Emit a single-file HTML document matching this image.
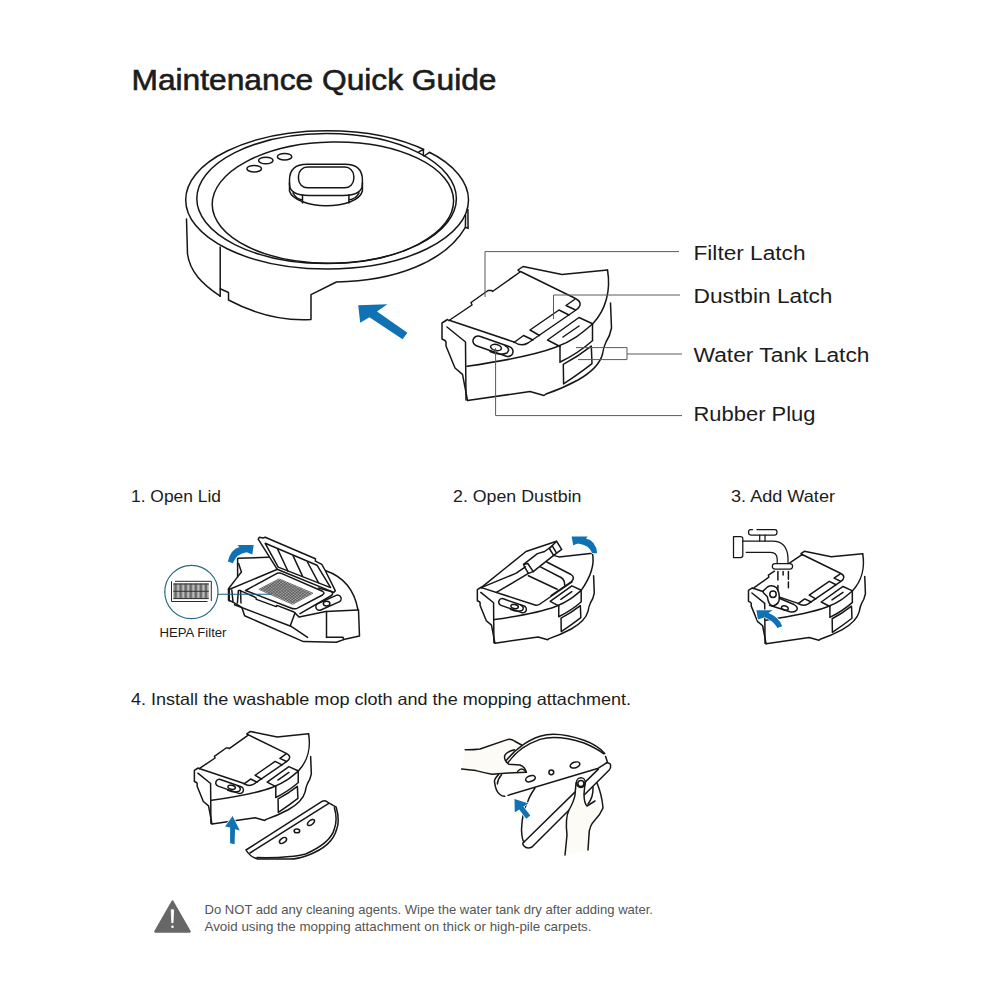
<!DOCTYPE html>
<html><head><meta charset="utf-8"><title>Maintenance Quick Guide</title>
<style>
html,body{margin:0;padding:0;background:#fff;width:1000px;height:1000px;overflow:hidden}
svg{position:absolute;left:0;top:0}
text{font-family:"Liberation Sans",sans-serif}
.k{fill:none;stroke:#161616;stroke-width:1.5;stroke-linejoin:round;stroke-linecap:round}
.k *{vector-effect:non-scaling-stroke}
.g{fill:none;stroke:#5a5a5a;stroke-width:1}
.bl{fill:#0f72b4;stroke:#fff;stroke-width:1.4;paint-order:stroke;stroke-linejoin:round}
</style></head>
<body>
<svg width="1000" height="1000" viewBox="0 0 1000 1000">
<!-- TEXT -->
<g fill="#1c1c1c">
<text x="131.5" y="89.6" font-size="29" textLength="365" lengthAdjust="spacingAndGlyphs" stroke="#1c1c1c" stroke-width="0.6">Maintenance Quick Guide</text>
<text x="693.5" y="259.6" font-size="19.5" textLength="112" lengthAdjust="spacingAndGlyphs">Filter Latch</text>
<text x="693.5" y="303" font-size="19.5" textLength="139" lengthAdjust="spacingAndGlyphs">Dustbin Latch</text>
<text x="693.5" y="361.6" font-size="19.5" textLength="176" lengthAdjust="spacingAndGlyphs">Water Tank Latch</text>
<text x="693.5" y="421" font-size="19.5" textLength="122" lengthAdjust="spacingAndGlyphs">Rubber Plug</text>
<text x="131" y="501.6" font-size="16.5" textLength="90" lengthAdjust="spacingAndGlyphs">1. Open Lid</text>
<text x="453" y="501.6" font-size="16.5" textLength="128.5" lengthAdjust="spacingAndGlyphs">2. Open Dustbin</text>
<text x="731" y="501.6" font-size="16.5" textLength="104" lengthAdjust="spacingAndGlyphs">3. Add Water</text>
<text x="131" y="705.4" font-size="16.5" textLength="500" lengthAdjust="spacingAndGlyphs">4. Install the washable mop cloth and the mopping attachment.</text>
<text x="159.5" y="636.5" font-size="12.3" textLength="67" lengthAdjust="spacingAndGlyphs">HEPA Filter</text>
</g>
<g fill="#555">
<text x="204.5" y="913.8" font-size="13" textLength="448.5" lengthAdjust="spacingAndGlyphs">Do NOT add any cleaning agents. Wipe the water tank dry after adding water.</text>
<text x="204.5" y="931.4" font-size="13" textLength="387" lengthAdjust="spacingAndGlyphs">Avoid using the mopping attachment on thick or high-pile carpets.</text>
</g>
<!-- warning triangle -->
<path d="M172.5,901.5 L155.3,931.6 L189.7,931.6 Z" fill="#676767" stroke="#676767" stroke-width="2.2" stroke-linejoin="round"/>
<path d="M171.2,909.8 L173.6,909.8 L173,922.8 L171.8,922.8 Z" fill="#fff" stroke="#fff" stroke-width="0.9" stroke-linejoin="round"/>
<circle cx="172.5" cy="926.8" r="1.3" fill="#fff"/>

<!-- ROBOT -->
<g class="k">
<ellipse cx="327.1" cy="199.9" rx="141.4" ry="69.1"/>
<ellipse cx="326.6" cy="198.6" rx="129.8" ry="65"/>
<ellipse cx="332.9" cy="202.6" rx="120.7" ry="60.6" transform="rotate(-1.06 332.9 202.6)"/>
<path d="M467.9,209.4 L468.1,228.4 L465.4,227.3 L465.6,215"/>
<path d="M186.5,219 L187.5,254 C190,272 202,284 220.2,296.2"/>
<path d="M220.2,247 L220.2,296.2"/>
<path d="M220.2,288.7 L228.5,292.5 L228.5,300 Q270,322 311,319.5 L311,294.7 L336.4,282 C395,281 445,262 465.4,227.3"/>
<path d="M307,164.2 L345,164.2 Q362.4,164.2 362.4,180 L362.4,184 Q362.4,195.5 343,195.5 L309,195.5 Q289.5,195.5 289.5,184 L289.5,180 Q289.5,164.2 307,164.2 Z"/>
<rect x="298.5" y="167.1" width="55.3" height="20.7" rx="9"/>
<path d="M289.5,183 L289.5,191 C292,200 310,205.8 326,205.8 C345,205.8 360,200 362.4,191 L362.4,183"/>
<path d="M302.5,195 L302.5,203 M348.9,195 L348.9,203 M293,193 Q296,199 302.5,200 M359,193 Q356,199 348.9,200"/>
<ellipse cx="254.2" cy="168.7" rx="7.3" ry="3.3"/>
<ellipse cx="265.8" cy="160.5" rx="7.2" ry="3.3"/>
<ellipse cx="284.6" cy="156.7" rx="7.2" ry="3.3"/>
</g>
<path d="M424.2,149.75 L429.2,152.2" stroke="#fff" stroke-width="2.6" fill="none"/>
<path class="k" d="M418.2,152.4 L422.8,149.6 L423.4,149.6 L423.4,155.4 M424.2,156 L429.4,152.4 L430.5,152.9"/>
<path class="bl" d="M358.2,305.2 L387.4,304.2 L377,311.6 L407.4,332.8 L402.6,339.2 L369.4,317.2 L360.2,322.8 Z"/>

<!-- TOP DUSTBIN -->

<g class="k">
<path d="M449,320.5 L447.5,319.5 L442,323 L442,339 L445,340.5 L446,342 L446,346 L455,368 L462.5,374.4 L467.5,400.4"/>
<path d="M447,327 L465.5,342 L466,400"/>
<path d="M592.5,324 C570.4,343 557.9,353.1 467,366.3"/>
<path d="M560,346.5 L547.5,340 L579,317.5 L592,323.5 M563,337 L579,326"/>
<path d="M560,346.5 L560,362 M592.5,324 L592.5,340.5 M559.8,362.2 Q578,353.5 592.7,340.5"/>
<path d="M563.3,364.3 Q578,356.5 591.3,346.1 L592,363.6 Q580,373 563.6,383.9 Z"/>
<path d="M610.5,303 L611.5,328 Q610,336 606,342 Q603.5,347 602.5,354 C600,364 592,372 578,380 C565,387 555,391 546,394 L544,395.5 L530,391.5 L467.5,400.5"/>
</g><g class="k">
<rect x="472.1" y="341.25" width="41.8" height="10" rx="5" transform="rotate(19.3 493 346.25)"/>
<ellipse cx="496" cy="347.5" rx="5.5" ry="3" transform="rotate(12 496 347.5)"/>
<path d="M490,351.5 Q500,356 507,353 Q511,349 505,345.5"/>
</g><g class="k">
<path d="M449,320.5 L472,305 L471,302.5 L488,290.5 L492,290.5 L492.5,291.5 L520,272 L518,270 L523,266.5 L562,274.5 L607.5,270"/>
<path d="M607.5,270 C611,290 606,310 592.5,324"/>
<path d="M520.5,271.5 L574.5,298 Q585,303 576,310 L528,343 Q521,347 514,342 L450,320.5"/>
<path d="M574.5,299.5 L566,305.5 L575.5,310 M539.5,335.5 L530,330 L559,310 L569,315 M514,342.5 L523.5,335.5 L533,340"/>
</g>
<!-- step 4 bin -->
<g transform="translate(-110.6,547.55) scale(0.69)"><g class="k">
<path d="M449,320.5 L447.5,319.5 L442,323 L442,339 L445,340.5 L446,342 L446,346 L455,368 L462.5,374.4 L467.5,400.4"/>
<path d="M447,327 L465.5,342 L466,400"/>
<path d="M592.5,324 C570.4,343 557.9,353.1 467,366.3"/>
<path d="M560,346.5 L547.5,340 L579,317.5 L592,323.5 M563,337 L579,326"/>
<path d="M560,346.5 L560,362 M592.5,324 L592.5,340.5 M559.8,362.2 Q578,353.5 592.7,340.5"/>
<path d="M563.3,364.3 Q578,356.5 591.3,346.1 L592,363.6 Q580,373 563.6,383.9 Z"/>
<path d="M610.5,303 L611.5,328 Q610,336 606,342 Q603.5,347 602.5,354 C600,364 592,372 578,380 C565,387 555,391 546,394 L544,395.5 L530,391.5 L467.5,400.5"/>
</g><g class="k">
<rect x="472.1" y="341.25" width="41.8" height="10" rx="5" transform="rotate(19.3 493 346.25)"/>
<ellipse cx="496" cy="347.5" rx="5.5" ry="3" transform="rotate(12 496 347.5)"/>
<path d="M490,351.5 Q500,356 507,353 Q511,349 505,345.5"/>
</g><g class="k">
<path d="M449,320.5 L472,305 L471,302.5 L488,290.5 L492,290.5 L492.5,291.5 L520,272 L518,270 L523,266.5 L562,274.5 L607.5,270"/>
<path d="M607.5,270 C611,290 606,310 592.5,324"/>
<path d="M520.5,271.5 L574.5,298 Q585,303 576,310 L528,343 Q521,347 514,342 L450,320.5"/>
<path d="M574.5,299.5 L566,305.5 L575.5,310 M539.5,335.5 L530,330 L559,310 L569,315 M514,342.5 L523.5,335.5 L533,340"/>
</g></g>
<!-- step 2 bin -->
<g transform="translate(172.36,366.8) scale(0.69)"><g class="k">
<path d="M449,320.5 L447.5,319.5 L442,323 L442,339 L445,340.5 L446,342 L446,346 L455,368 L462.5,374.4 L467.5,400.4"/>
<path d="M447,327 L465.5,342 L466,400"/>
<path d="M592.5,324 C570.4,343 557.9,353.1 467,366.3"/>
<path d="M560,346.5 L547.5,340 L579,317.5 L592,323.5 M563,337 L579,326"/>
<path d="M560,346.5 L560,362 M592.5,324 L592.5,340.5 M559.8,362.2 Q578,353.5 592.7,340.5"/>
<path d="M563.3,364.3 Q578,356.5 591.3,346.1 L592,363.6 Q580,373 563.6,383.9 Z"/>
<path d="M610.5,303 L611.5,328 Q610,336 606,342 Q603.5,347 602.5,354 C600,364 592,372 578,380 C565,387 555,391 546,394 L544,395.5 L530,391.5 L467.5,400.5"/>
</g><g class="k">
<rect x="472.1" y="341.25" width="41.8" height="10" rx="5" transform="rotate(19.3 493 346.25)"/>
<ellipse cx="496" cy="347.5" rx="5.5" ry="3" transform="rotate(12 496 347.5)"/>
<path d="M490,351.5 Q500,356 507,353 Q511,349 505,345.5"/>
</g></g>
<!-- step 3 bin -->
<g transform="translate(443.5,367.4) scale(0.69)"><g class="k">
<path d="M449,320.5 L447.5,319.5 L442,323 L442,339 L445,340.5 L446,342 L446,346 L455,368 L462.5,374.4 L467.5,400.4"/>
<path d="M447,327 L465.5,342 L466,400"/>
<path d="M592.5,324 C570.4,343 557.9,353.1 467,366.3"/>
<path d="M560,346.5 L547.5,340 L579,317.5 L592,323.5 M563,337 L579,326"/>
<path d="M560,346.5 L560,362 M592.5,324 L592.5,340.5 M559.8,362.2 Q578,353.5 592.7,340.5"/>
<path d="M563.3,364.3 Q578,356.5 591.3,346.1 L592,363.6 Q580,373 563.6,383.9 Z"/>
<path d="M610.5,303 L611.5,328 Q610,336 606,342 Q603.5,347 602.5,354 C600,364 592,372 578,380 C565,387 555,391 546,394 L544,395.5 L530,391.5 L467.5,400.5"/>
</g></g>
<!-- leader lines -->
<g class="g">
<path d="M485,297 L485,251.6 L679,251.6"/>
<path d="M553.5,319 L553.5,295 L680,295"/>
<path d="M576,347.6 L627,347.6 L627,359.6 L578,359.6 M627,354 L682,354"/>
<path d="M495.6,348 L495.6,415.6 L682,415.6"/>
</g>

<!-- STEP 1 -->
<g class="k">
<path d="M237.6,577 L237.6,558.3 L268.4,557.3"/>
<path d="M238.6,563.6 L241.4,572 L237.6,576.9 L228.5,588.8 L228.5,600 L233.4,602.4 L241.8,607.3 L244.6,615.7 L303.4,641.6 L336.4,642.2 L343.6,639.6 L359.5,636 L358.5,610"/>
<path d="M326.5,637.2 L343,637.2 L343.6,639.6"/>
<path d="M258.2,539.1 L259.3,537.3 L263.1,538 L265.2,537.3 L315.4,558.8 L315.4,561.2 L321.8,564.4 L325,570 L335.4,590.8 L333.8,592.4 L277.1,569.2 Z"/>
<path d="M265.2,543.3 L317,565.2 L330.6,587.6 L278.2,567.1 Z"/>
<path d="M277.5,548.9 L288,571.3 M293,555.6 L302.6,576.4 M307.4,562 L318.6,582.8"/>
<path d="M228.5,589.8 L277.5,569.2"/>
<path d="M318.5,588 L331,591.5 Q334,593 331.5,595.5 L300,613.6"/>
<path d="M245.5,590.5 L277,573.3 Q279.5,572.5 281.9,573.6 L322.5,591.3 Q325.5,593 322.5,595 L297,608.4 Q294,609.5 290.8,608 L245.5,590.5"/>
<path d="M239.6,590.4 L255.8,597.6 L256.4,599.4 L276.2,606.6 L276.8,605.4 L294,612 L299.2,617.1 L325.8,611.5 L358,610"/>
<path d="M325.8,570.8 C341,576 354,588 358,610"/>
<path d="M234.5,604.8 L290.8,626.2 L307.6,637.4 M290.1,626.2 L295,612.9 M326.5,611.5 L326.5,637.4"/>

<path d="M229.2,589 L229.2,601 M231.8,590 L233,602 M238.4,590.4 L237.4,603 M240.5,590.4 L241,603"/>
<rect x="315" y="599.2" width="27" height="7" rx="3.5" transform="rotate(-24 328.5 602.7)"/>
<ellipse cx="326.6" cy="603.6" rx="3.3" ry="2.4"/>
</g>
<g stroke="#2a2a2a" stroke-width="0.6" fill="none"><path d="M258.9,589.3L292.7,604.3 M260.5,588.5L294.3,603.4 M262.0,587.7L295.8,602.6 M263.6,586.9L297.4,601.7 M265.1,586.1L298.9,600.9 M266.7,585.3L300.5,600.0 M268.2,584.5L302.0,599.2 M269.8,583.7L303.6,598.3 M271.3,582.9L305.1,597.5 M272.9,582.1L306.7,596.6 M274.4,581.3L308.2,595.8 M276.0,580.5L309.8,594.9 M277.5,579.7L311.3,594.1 M279.1,578.9L312.9,593.2 M258.9,589.3L279.1,578.9 M260.6,590.0L280.8,579.6 M262.3,590.8L282.5,580.3 M264.0,591.5L284.2,581.0 M265.7,592.3L285.9,581.8 M267.3,593.0L287.6,582.5 M269.0,593.8L289.2,583.2 M270.7,594.5L290.9,583.9 M272.4,595.3L292.6,584.6 M274.1,596.0L294.3,585.3 M275.8,596.8L296.0,586.0 M277.5,597.5L297.7,586.8 M279.2,598.3L299.4,587.5 M280.9,599.0L301.1,588.2 M282.6,599.8L302.8,588.9 M284.2,600.5L304.4,589.6 M285.9,601.3L306.1,590.3 M287.6,602.0L307.8,591.1 M289.3,602.8L309.5,591.8 M291.0,603.5L311.2,592.5 M292.7,604.3L312.9,593.2"/></g>
<path class="bl" d="M227.8,561.5 Q230.5,549.5 239.5,547 L237.2,545 L253.7,545 L252.3,554.5 L246.7,552.2 Q236.5,553.5 232.9,563.2 Z"/>
<circle cx="191.4" cy="592" r="26.6" fill="none" stroke="#2a6a86" stroke-width="1.2"/>
<path d="M218,594.3 L272,594.3" stroke="#1f5f78" stroke-width="1.1"/>
<path d="M175,581.3 L211.3,581.3 L211.3,601 M171.5,581.3 L171.5,601.5 L207.5,601.5" fill="none" stroke="#2a2a2a" stroke-width="1"/>
<rect x="173.3" y="583.5" width="35.5" height="15.5" fill="#9a9a9a"/>
<path d="M175.60,583.5 L175.60,598.5 M180.65,583.5 L180.65,598.5 M185.70,583.5 L185.70,598.5 M190.75,583.5 L190.75,598.5 M195.80,583.5 L195.80,598.5 M200.85,583.5 L200.85,598.5 M205.90,583.5 L205.90,598.5" stroke="#6a6a6a" stroke-width="2"/>
<path d="M178.20,584.5 L178.20,597.5 M183.25,584.5 L183.25,597.5 M188.30,584.5 L188.30,597.5 M193.35,584.5 L193.35,597.5 M198.40,584.5 L198.40,597.5 M203.45,584.5 L203.45,597.5 M208.50,584.5 L208.50,597.5" stroke="#bdbdbd" stroke-width="1.4"/>
<path d="M173.3,584 L208.8,584 M173.3,591.3 L208.8,591.3 M173.3,598.6 L208.8,598.6" stroke="#333" stroke-width="1"/>

<!-- STEP 2 custom -->
<g class="k">
<path d="M481.2,587.6 L526,551.5 L556.6,541.3 L561.7,549.4 L553.6,555.4"/>
<path d="M549.4,548.5 L556.6,541.3 M552.4,546.1 L556.3,552.7 M549.4,548.5 L553.6,555.4"/>
<path d="M523.6,564.4 L537.4,553.6 L544.6,551.5 L552,546"/>
<path d="M523.6,564.4 L527.8,563.5 L533.2,571.6 L528.4,573.4 L524.8,567.4 Z"/>
<path d="M533.2,571.6 L553.6,555.4 L559,556.9 L592.4,553.2"/>
<path d="M481.2,587.6 L515.8,573.4 L525.4,566.8"/>
<path d="M496.4,592.4 L528.4,573.4 M528.4,575.8 L557.2,589.2"/>
<path d="M540.4,566.8 L561,577.5 Q565,580 564.6,585 M546.8,562 L571,574.5 Q575.5,577.5 571.5,581.5 L551,595.5"/>
<path d="M592.4,553.2 C595,565 590,578 581.2,590.4"/>
<path d="M482.2,587.9 L535,605 Q537.5,605.8 540,604 L572,582"/>
</g>
<path class="bl" d="M597.2,553.2 Q596,541 586,538.6 L587.6,536.4 L571.6,536.4 L573.2,545.2 L578,543.6 Q589,545 592.4,553.2 Z"/>

<!-- STEP 3 custom -->
<g transform="translate(443.5,367.4) scale(0.69)">
<g class="k">
<path d="M607.5,270 C611,290 606,310 592.5,324"/>
<path d="M520.5,271.5 L574.5,298 Q585,303 576,310 L528,343 Q521,347 514,342 L450,320.5"/>
<path d="M574.5,299.5 L566,305.5 L575.5,310 M539.5,335.5 L530,330 L559,310 L569,315 M514,342.5 L523.5,335.5 L533,340"/>
<path d="M520,272 L518,270 L523,266.5 L562,274.5 L607.5,270"/>
</g>
</g>
<g class="k">
<path d="M754.1,587.7 L768.8,577.2 L768.4,575.1 L774.4,571.2 M789.8,562.8 L802.4,554.4"/>
<path fill="#fff" d="M764.6,589.8 Q770,583 776.5,587.7 Q779.5,592 779.3,598.2 Q779.5,604 773,605.9 Q768.5,605.5 767.4,596.8 L763.9,593.3 Q762,591 764.6,589.8"/>
<circle cx="773" cy="594.3" r="3.2"/>
<path d="M779.3,598.2 L794,604.5 Q798.5,607.5 796.8,610 Q794.5,612.8 790,611.8 L769.5,605.2"/>
<ellipse cx="784.9" cy="608" rx="3.5" ry="2" transform="rotate(15 784.9 608)"/>
<path d="M777.9,571.6 L777.9,580 M777.9,585.6 L777.9,589.8 M783.1,571.6 L783.1,575.1 M788.4,571.6 L788.4,579.3 M788.4,582.1 L788.4,587.7"/>
<g style="stroke-width:1.25">
<rect x="772.3" y="563.5" width="20.3" height="5.6" rx="2.8"/>
<path d="M777.2,563.5 L777.2,559 Q777,552.3 770.5,552.3 L746.2,552.3"/>
<path d="M788,563.5 L788,557.6 Q787,541 772.5,541 L742.5,541"/>
<path d="M742.8,538.5 Q742.8,536.5 740.5,536.5 L733.5,536.5 L733.5,557.5 L740.5,557.5 Q742.8,557.5 742.8,555.5 Z"/>
<path d="M752.5,529.7 L750.8,529.7 Q748.5,529.7 748.5,532.35 Q748.5,535 750.8,535 L775,535 Q777,535 777,532.35 Q777,529.7 775,529.7 L757,529.7"/>
<path d="M759.7,535 L759.7,541 M765,535 L765,541"/>
</g>
</g>
<path class="bl" d="M756.4,610.3 L772.6,610.3 L768.5,613 Q779,617 782.2,626.2 L777.4,628 Q773,620.5 764.8,617.2 L757.9,619.6 Z"/>

<!-- STEP 4 plate -->
<g class="k">
<path d="M246,850 L322.4,801.2 Q325.5,800 328.4,802.7 L336.2,807.2 C338.5,815 338.5,824 336.8,828.8 C334,840 325,849 308,855.2 C300,858 295,859 290,859.1 L258,859 Q250,857 246,850 Z"/>
<path d="M250,853 L328.4,803.6"/>
<path d="M334.4,807.8 C336.5,815 336.5,823 334.4,828.8 C332,838 324,846 305.6,854 C298,856 294,856.5 290,856.4 C280,857.5 266,857.8 257,857.5"/>
<ellipse cx="283" cy="840.5" rx="4" ry="2.3" transform="rotate(-35 283 840.5)"/>
<ellipse cx="296.9" cy="830.9" rx="2.8" ry="1.8"/>
<ellipse cx="311" cy="822.5" rx="4.2" ry="2.2" transform="rotate(-38 311 822.5)"/>
</g>
<path class="bl" d="M232.6,816 L239.8,830.5 L235,829.3 L234.6,844.2 L230.1,843.3 L230.1,827.5 L225.1,826.6 Z"/>

<!-- STEP 4 hands -->
<g class="k">
<path fill="#fcfbf6" stroke="none" d="M465.2,749.8 Q472,750 480,749 L508,739.4 Q511.5,738.8 514.4,741 L521.6,745 L514.4,749.8 Q506,752 504.8,755.4 Q503.5,760 508.8,764.2 L520,765 Q525,767 526.4,772.2 L508,773 L492,774.2 Q485,773 476,770.6 L461.6,769 Z"/>
<path d="M465.2,749.8 Q472,750 480,749 L508,739.4 Q511.5,738.8 514.4,741 L521.6,745"/>
<path d="M514.4,749.8 Q506,752 504.8,755.4 Q503.5,760 508.8,764.2 L520,765 Q525,767 526.4,772.2"/>
<path d="M517.6,771.4 Q521.6,766.5 525.6,771.4"/>
<path d="M461.6,769 L476,770.6 Q485,773 492,774.2 L508,773 L526.4,772.2"/>
<path d="M506.4,760.2 Q514,751 521.6,745.8 Q530,739.5 540,736.2 Q557,731 584,740.3 Q597,745 604.7,753.4"/>
<path d="M508,762.6 Q515,753.5 522.4,748.2 Q531,742.5 540,739.4 Q557,734.5 584,743 Q596,748 603.8,753.8"/>
<path d="M605.6,756.5 L607.4,761.9"/>
<path d="M498.5,774.6 Q494,779 494.5,782 L495.5,787 Q497,792.5 500,794.5 Q502,796.3 504.8,796.2 M501.5,774.8 Q497.6,779.5 497.4,784"/>
<path d="M508,795.4 L598.4,768.2 L606.5,762.8"/>
<ellipse cx="530.4" cy="778.6" rx="5" ry="2.8" transform="rotate(-20 530.4 778.6)"/>
<ellipse cx="575" cy="765" rx="5" ry="2.8" transform="rotate(-18 575 765)"/>
<circle cx="551.3" cy="772.3" r="2.4"/>
<path d="M606.5,762.8 Q611,763 610.6,765.5 Q611,768 609.2,770 L532,847 Q527,849.5 524,846 Q521.5,843 524,842 L598.4,769.1"/>
<path d="M535,788 Q529,797 528,801 Q522,812 521.5,830 Q522,840 524,842"/>
<path fill="#fcfbf6" stroke="none" d="M576,783 L575,795 Q574,801 569,810 Q565,818 567,835 L565,855 L588,850 L589,835 Q589,826 595,820 Q600,815 603,808 L587,806 L584,794 L585,783 Z"/>
<path d="M576,783 L575,795 Q574,801 569,810 Q565,818 567,835 L565,855"/>
<path d="M585,783 L584,794 Q584,803 587,806 L595,801"/>
<path d="M593,787 Q593.5,797 588,804"/>
<path d="M597,783 Q602,795 603,808 Q600,815 595,820 Q589,826 589,835 L588,850"/>
<ellipse cx="580.9" cy="782.6" rx="4.5" ry="4.8"/>
<ellipse cx="580.9" cy="783.5" rx="3" ry="3"/>
</g>
<path class="bl" d="M514.5,799 L528.5,803.5 L523.3,806.5 L530.4,815.6 L526.2,818.8 L519.2,809.6 L514.8,812.5 Z"/>
</svg>
</body></html>
